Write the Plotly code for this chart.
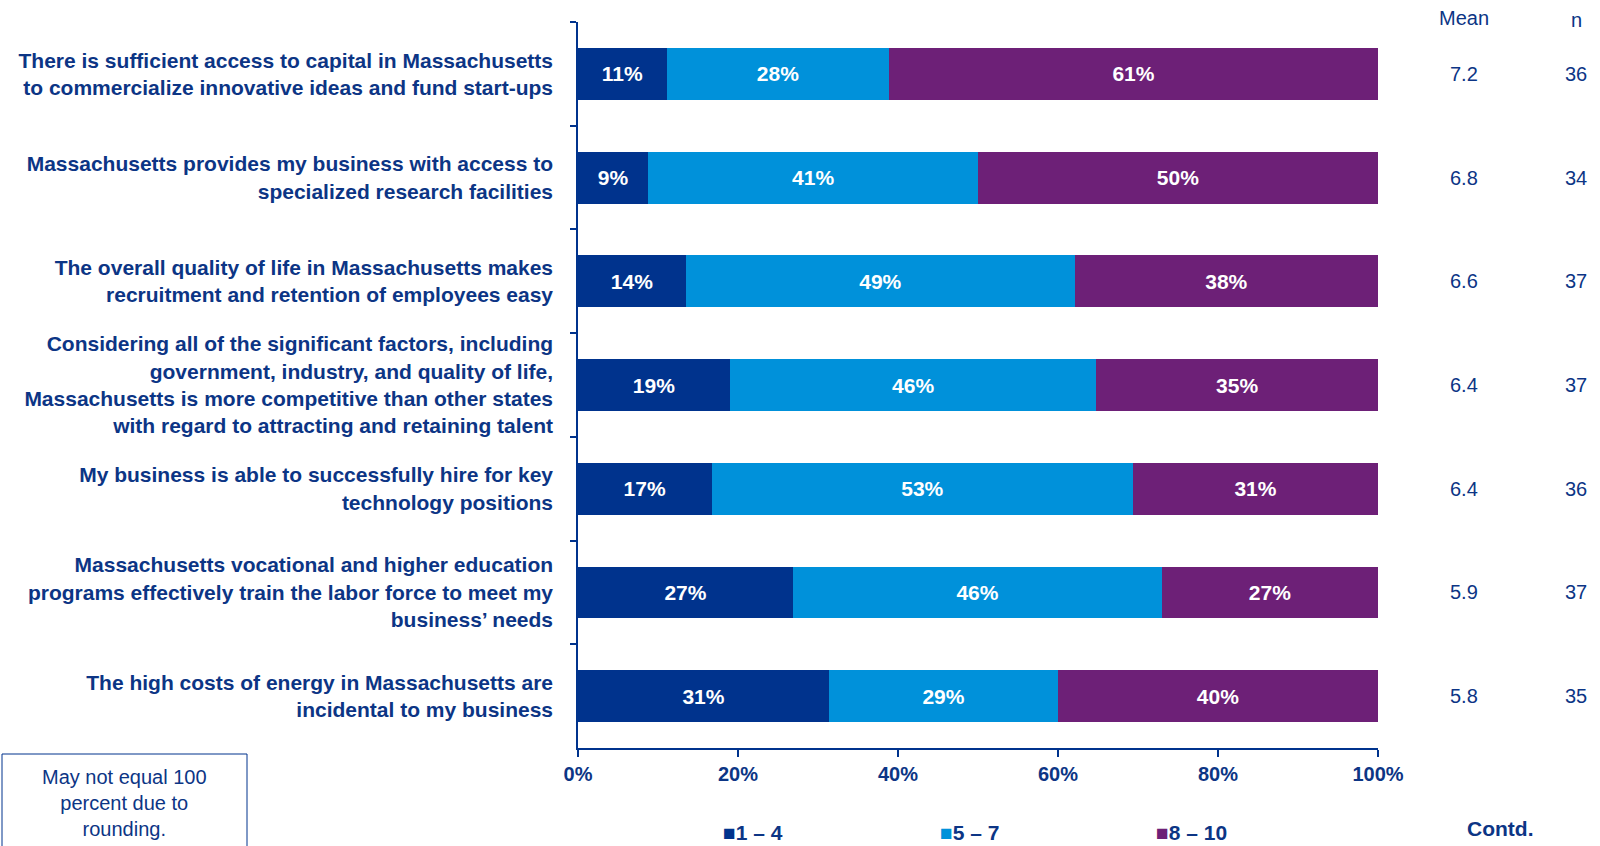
import plotly.graph_objects as go

categories = [
    "There is sufficient access to capital in Massachusetts<br>to commercialize innovative ideas and fund start-ups",
    "Massachusetts provides my business with access to<br>specialized research facilities",
    "The overall quality of life in Massachusetts makes<br>recruitment and retention of employees easy",
    "Considering all of the significant factors, including<br>government, industry, and quality of life,<br>Massachusetts is more competitive than other states<br>with regard to attracting and retaining talent",
    "My business is able to successfully hire for key<br>technology positions",
    "Massachusetts vocational and higher education<br>programs effectively train the labor force to meet my<br>business’ needs",
    "The high costs of energy in Massachusetts are<br>incidental to my business",
]
low_1_4 = [11.1, 8.8, 13.5, 19.0, 16.7, 26.9, 31.4]
mid_5_7 = [27.8, 41.2, 48.6, 45.8, 52.7, 46.1, 28.6]
high_8_10 = [61.1, 50.0, 37.9, 35.2, 30.6, 27.0, 40.0]
means = ["7.2", "6.8", "6.6", "6.4", "6.4", "5.9", "5.8"]
ns = ["36", "34", "37", "37", "36", "37", "35"]
series_names = ["1 – 4", "5 – 7", "8 – 10"]
x_ticks = [0, 20, 40, 60, 80, 100]
x_tick_labels = ["0%", "20%", "40%", "60%", "80%", "100%"]

NAVY = "#00338D"
BLUE = "#0091DA"
PURPLE = "#6D2077"
TEXT = "#0C3585"
FONT = "Arial, 'Liberation Sans', sans-serif"

fig = go.Figure()
for name, vals, col in zip(series_names, [low_1_4, mid_5_7, high_8_10], [NAVY, BLUE, PURPLE]):
    fig.add_trace(go.Bar(
        y=categories, x=vals, name=name, orientation="h",
        marker=dict(color=col, line=dict(width=0)),
        texttemplate="%{x:.0f}%", textposition="inside", insidetextanchor="middle",
        textangle=0, constraintext="none",
        textfont=dict(color="white", size=21, family=FONT, weight="bold"),
        showlegend=False, hoverinfo="skip",
    ))

# plot area in pixels: x 578..1378, y 22..748
L, R, T, B = 578, 1378, 22, 748
def px_x(p):
    return (p - L) / (R - L)
def px_y(q):
    return (B - q) / (B - T)

def note(text, x, y, xref="paper", yref="paper", size=20, bold=False, xanchor="center", align="center"):
    f = dict(size=size, color=TEXT, family=FONT)
    if bold:
        f["weight"] = "bold"
    return dict(text=text, x=x, y=y, xref=xref, yref=yref, xanchor=xanchor, yanchor="middle",
                showarrow=False, align=align, font=f)

ann = []
ann.append(note("Mean", px_x(1464), px_y(18)))
ann.append(note("n", px_x(1576), px_y(20)))
for cat, m, n in zip(categories, means, ns):
    ann.append(note(m, px_x(1464), cat, yref="y"))
    ann.append(note(n, px_x(1576), cat, yref="y"))

# Legend (compact square + text layout)
for name, col, px in zip(series_names, [NAVY, BLUE, PURPLE], [721, 938, 1154]):
    ann.append(note(f"<span style='color:{col}'>■</span>{name}", px_x(px), px_y(832),
                    size=21, bold=True, xanchor="left", align="left"))

ann.append(note("May not equal 100<br>percent due to<br>rounding.", px_x(124.5), px_y(803)))
ann.append(note("Contd.", px_x(1500), px_y(828), size=21, bold=True))

fig.update_layout(
    width=1600, height=846,
    margin=dict(l=L, r=1600 - R, t=T, b=846 - B, pad=0),
    paper_bgcolor="white", plot_bgcolor="white",
    barmode="stack", bargap=0.5,
    font=dict(family=FONT, color=TEXT),
    annotations=ann,
    shapes=[dict(type="rect", xref="paper", yref="paper",
                 x0=px_x(2), x1=px_x(247), y0=px_y(754), y1=px_y(850),
                 line=dict(color=NAVY, width=1), fillcolor="rgba(0,0,0,0)")],
)
fig.update_xaxes(range=[0, 100], tickvals=x_ticks, ticktext=x_tick_labels, showgrid=False, zeroline=False,
                 showline=True, linecolor=NAVY, linewidth=1.5, ticks="outside", ticklen=7,
                 tickcolor=NAVY, tickwidth=1.5,
                 tickfont=dict(size=20, color=TEXT, family=FONT, weight="bold"))
fig.update_yaxes(autorange="reversed", showgrid=False, zeroline=False, showline=True,
                 linecolor=NAVY, linewidth=1.5, ticks="outside", ticklen=6, tickcolor=NAVY,
                 tickwidth=1.5, tickson="boundaries", ticklabelstandoff=19,
                 tickfont=dict(size=21, color=TEXT, family=FONT, weight="bold"))

fig.write_html("out.html", config={"displayModeBar": False},
               post_script="document.body.style.margin='0';")
